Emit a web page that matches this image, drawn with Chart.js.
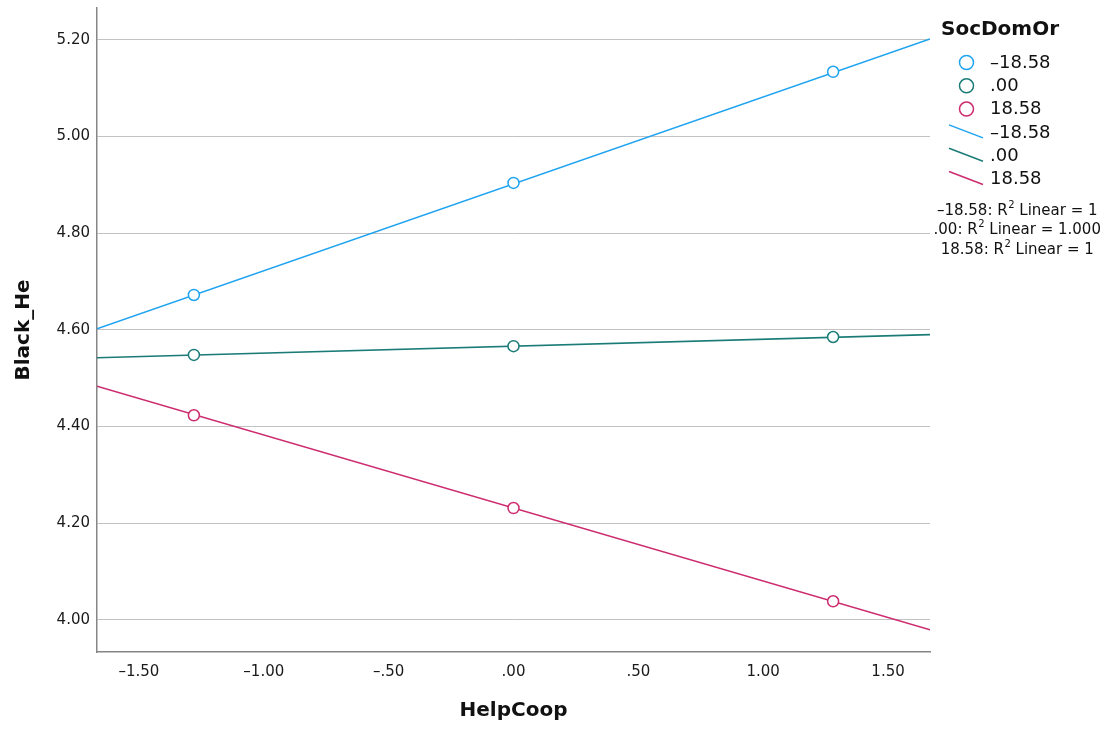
<!DOCTYPE html>
<html>
<head>
<meta charset="utf-8">
<script src="https://cdn.jsdelivr.net/npm/chart.js@4.4.1/dist/chart.umd.min.js"></script>
<style>
  html, body { margin: 0; padding: 0; background: #ffffff; }
  canvas { display: block; }
</style>
</head>
<body>
<canvas id="chart" width="1113" height="730"></canvas>
<script>
// Group variable and its three levels
const groupTitle = 'SocDomOr';
const seriesLabels = ['–18.58', '.00', '18.58'];
const seriesColors = ['#1ea3f0', '#1b7c77', '#cc2b6e'];

// Observed points (HelpCoop at -1 SD, mean, +1 SD)
const pointX = [-1.28, 0, 1.28];
const lowY  = [4.672, 4.904, 5.134];
const midY  = [4.548, 4.566, 4.585];
const highY = [4.423, 4.231, 4.038];

// Fit line end points across the plotted range
const fitX = [-1.668, 1.668];
const lowFit  = [4.602, 5.202];
const midFit  = [4.542, 4.590];
const highFit = [4.483, 3.979];

// R-squared annotations
const r2Values = ['1', '1.000', '1'];

// Axis ticks and titles
const xTickValues = [-1.5, -1.0, -0.5, 0, 0.5, 1.0, 1.5];
const xTickLabels = ['–1.50', '–1.00', '–.50', '.00', '.50', '1.00', '1.50'];
const yTickValues = [4.0, 4.2, 4.4, 4.6, 4.8, 5.0, 5.2];
const yTickLabels = ['4.00', '4.20', '4.40', '4.60', '4.80', '5.00', '5.20'];
const xRange = [-1.668, 1.668];
const yRange = [3.933, 5.266];
const xTitle = 'HelpCoop';
const yTitle = 'Black_He';

const FONT = "'DejaVu Sans', sans-serif";
const pointSets = [lowY, midY, highY];
const fitSets = [lowFit, midFit, highFit];

const datasets = [];
// points first so they are drawn on top of the fit lines
pointSets.forEach((ys, i) => {
  datasets.push({
    label: seriesLabels[i],
    data: pointX.map((x, k) => ({ x: x, y: ys[k] })),
    showLine: false,
    pointRadius: 5.5,
    pointHoverRadius: 5.5,
    pointBorderWidth: 1.5,
    borderColor: seriesColors[i],
    backgroundColor: '#ffffff',
    kind: 'point'
  });
});
fitSets.forEach((ys, i) => {
  datasets.push({
    label: seriesLabels[i],
    data: fitX.map((x, k) => ({ x: x, y: ys[k] })),
    showLine: true,
    pointRadius: 0,
    borderWidth: 1.6,
    borderColor: seriesColors[i],
    backgroundColor: seriesColors[i],
    kind: 'line'
  });
});

// Legend block on the right: title, point keys, line keys, R² notes
const sideLegend = {
  id: 'sideLegend',
  afterDraw(chart) {
    const ctx = chart.ctx;
    ctx.save();
    ctx.textBaseline = 'middle';
    ctx.textAlign = 'left';
    ctx.fillStyle = '#111111';
    ctx.font = 'bold 20px ' + FONT;
    ctx.fillText(groupTitle, 941, 30);

    const rowStart = 63;
    const rowStep = 23.3;
    ctx.font = '18px ' + FONT;
    const pts = chart.data.datasets.filter(d => d.kind === 'point');
    const lns = chart.data.datasets.filter(d => d.kind === 'line');
    pts.forEach((d, i) => {
      const y = rowStart + rowStep * i;
      ctx.beginPath();
      ctx.arc(966.5, y - 0.5, 7, 0, Math.PI * 2);
      ctx.lineWidth = 1.5;
      ctx.strokeStyle = d.borderColor;
      ctx.stroke();
      ctx.fillStyle = '#111111';
      ctx.fillText(d.label, 990, y);
    });
    lns.forEach((d, i) => {
      const y = rowStart + rowStep * (i + 3);
      ctx.beginPath();
      ctx.moveTo(949, y - 8);
      ctx.lineTo(983, y + 5);
      ctx.lineWidth = 1.5;
      ctx.strokeStyle = d.borderColor;
      ctx.stroke();
      ctx.fillStyle = '#111111';
      ctx.fillText(d.label, 990, y);
    });

    // R² lines, centred on a common axis
    const base = '15px ' + FONT;
    const sup = '10px ' + FONT;
    const cx = 1017;
    const r2Y = [211, 230.5, 250];
    seriesLabels.forEach((lab, i) => {
      const a = lab + ': R';
      const b = '2';
      const c = ' Linear = ' + r2Values[i];
      ctx.font = base;
      const wa = ctx.measureText(a).width;
      const wc = ctx.measureText(c).width;
      ctx.font = sup;
      const wb = ctx.measureText(b).width;
      let x = cx - (wa + wb + wc) / 2;
      const y = r2Y[i];
      ctx.fillStyle = '#111111';
      ctx.font = base;
      ctx.fillText(a, x, y);
      x += wa;
      ctx.font = sup;
      ctx.fillText(b, x + 0.5, y - 6);
      x += wb + 0.5;
      ctx.font = base;
      ctx.fillText(c, x, y);
    });
    ctx.restore();
  }
};

new Chart(document.getElementById('chart'), {
  type: 'scatter',
  data: { datasets: datasets },
  plugins: [sideLegend],
  options: {
    responsive: false,
    animation: false,
    devicePixelRatio: 1,
    layout: { padding: { left: 0, right: 183, top: 8, bottom: 0 } },
    plugins: {
      legend: { display: false },
      tooltip: { enabled: false }
    },
    scales: {
      x: {
        type: 'linear',
        min: xRange[0],
        max: xRange[1],
        afterBuildTicks: s => { s.ticks = xTickValues.map(v => ({ value: v })); },
        afterFit: s => {
          s.height = 78;
          s.paddingLeft = 0; s.paddingRight = 0;
        },
        ticks: {
          padding: 11,
          font: { family: FONT, size: 15 },
          color: '#1a1a1a',
          callback: (v, i) => xTickLabels[i]
        },
        grid: { display: true, drawOnChartArea: false, drawTicks: false },
        border: { display: true, color: '#858585', width: 1.5 },
        title: {
          display: true,
          text: xTitle,
          font: { family: FONT, size: 20, weight: 'bold' },
          color: '#111111',
          padding: { top: 0, bottom: 7 }
        }
      },
      y: {
        type: 'linear',
        min: yRange[0],
        max: yRange[1],
        afterBuildTicks: s => { s.ticks = yTickValues.map(v => ({ value: v })); },
        afterFit: s => {
          s.width = 97;
          s.paddingTop = 0; s.paddingBottom = 0;
        },
        ticks: {
          padding: 7,
          font: { family: FONT, size: 15 },
          color: '#1a1a1a',
          callback: (v, i) => yTickLabels[i]
        },
        grid: { color: '#c2c2c2', lineWidth: 1, drawTicks: false },
        border: { display: true, color: '#858585', width: 1.5 },
        title: {
          display: true,
          text: yTitle,
          font: { family: FONT, size: 20, weight: 'bold' },
          color: '#111111',
          padding: { top: 12, bottom: 0 }
        }
      }
    }
  }
});
</script>
</body>
</html>
